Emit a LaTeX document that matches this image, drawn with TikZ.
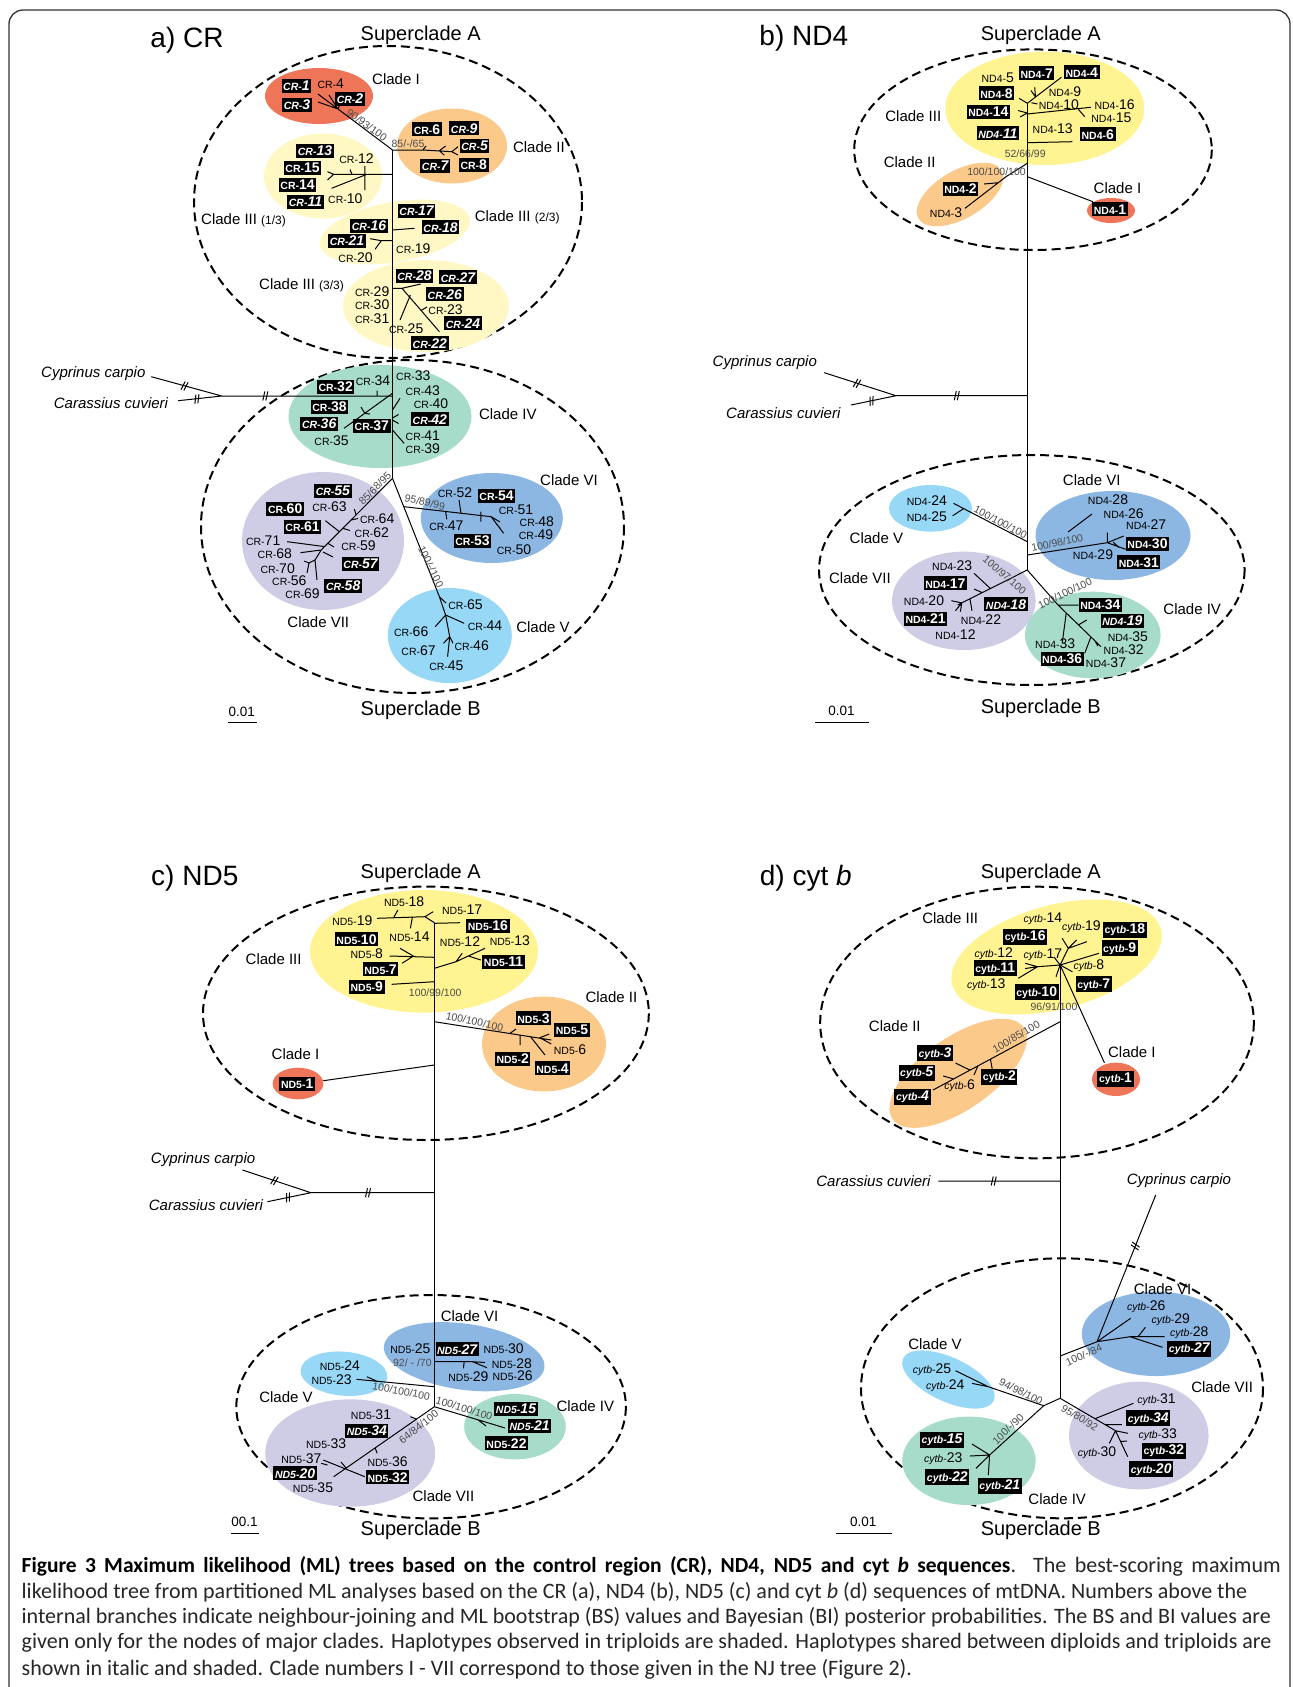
\documentclass[tikz,border=0pt]{standalone}
\usepackage{fontspec}
\setmainfont{Liberation Sans}
\newfontfamily\capfont{Carlito}

\definecolor{cI}{RGB}{239,117,88}
\definecolor{cII}{RGB}{251,201,138}
\definecolor{cIIIa}{RGB}{255,248,196}
\definecolor{cIII}{RGB}{255,244,145}
\definecolor{cIV}{RGB}{167,220,203}
\definecolor{cV}{RGB}{150,216,245}
\definecolor{cVI}{RGB}{141,183,227}
\definecolor{cVII}{RGB}{207,204,230}

\tikzset{
  br/.style={line width=1pt},
  superclade/.style={line width=2pt, dash pattern=on 9pt off 5pt},
  hap/.style={inner sep=0.6pt},
  hbox/.style={fill=black, text=white, inner xsep=1.6pt, inner ysep=2pt, font=\bfseries},
  hboxi/.style={hbox, font=\bfseries\itshape},
  clade/.style={font=\fontsize{15}{15}\selectfont, inner sep=0pt},
  sup/.style={font=\fontsize{20}{20}\selectfont},
  ptitle/.style={font=\fontsize{28}{28}\selectfont},
  bs/.style={font=\fontsize{10.5}{10.5}\selectfont, text=black!70, inner sep=0.5pt},
  og/.style={font=\fontsize{15}{15}\selectfont\itshape, inner sep=0pt},
  sbar/.style={font=\fontsize{13.5}{13.5}\selectfont},
  capline/.style={anchor=west, inner sep=0pt, font=\capfont\fontsize{22}{22}\selectfont, text=black!85}
}

% haplotype label: small prefix, larger number
\newcommand{\hp}[2]{{\fontsize{10.5}{11}\selectfont #1-}{\fontsize{14}{14}\selectfont #2}}
\newcommand{\cpart}[1]{{\fontsize{12}{12}\selectfont(#1)}}
\newcommand{\capbf}[1]{{\fontsize{21.5}{22}\selectfont\bfseries\color{black}#1}}
% coloured clade ellipse: colour, x, y, rx, ry, angle
\newcommand{\clade}[6]{\fill[#1, rotate around={#6:(#2,#3)}] (#2,#3) ellipse [x radius=#4, y radius=#5];}
% break mark on a long branch: x, y, angle of branch
\newcommand{\brk}[3]{\draw[br, shift={(#1,#2)}, rotate=#3] (-2.5pt,-4.5pt) -- (-0.5pt,4.5pt) (0.5pt,-4.5pt) -- (2.5pt,4.5pt);}

\begin{document}
\begin{tikzpicture}[x=1pt,y=-1pt]
\useasboundingbox (0,0) rectangle (1293,1687);
\fill[white] (0,0) rectangle (1293,1687);
\draw[line width=1.3pt, black!80, rounded corners=14pt] (9,10) rectangle (1290,1720);

%%%%%%%%%%%%%%%% a) CR
\draw[superclade] (388,202) ellipse [x radius=194, y radius=156];
\draw[superclade] (412.5,526.5) ellipse [x radius=211.5, y radius=166.5];
\clade{cI}{319}{96}{54}{28}{0}
\clade{cII}{452}{146}{55}{37.5}{0}
\clade{cIIIa}{323}{176}{59}{42.5}{0}
\clade{cIIIa}{395}{232}{76}{30}{10}
\clade{cIIIa}{426}{306}{83}{46}{0}
\clade{cIV}{380}{416.5}{91.5}{51.5}{0}
\clade{cV}{449.8}{635.5}{62}{47.5}{0}
\clade{cVI}{491.8}{518}{71}{45}{0}
\clade{cVII}{323}{541}{81}{69}{0}

\coordinate (a-top) at (392.5,150);
\coordinate (a-root) at (392.5,478.3);
\coordinate (a-n1) at (338,109);
\coordinate (a-n2) at (422.8,150);
\coordinate (a-n3) at (402,288.3);
\coordinate (a-n5) at (445.6,615);
\coordinate (a-n6) at (404.1,506.7);
\coordinate (a-n7) at (321.2,550);
\coordinate (a-og) at (221.8,396);
\coordinate (a-cyp-e) at (151.3,376.7);
\coordinate (a-car-e) at (178.2,400.7);

\draw[br] (a-top) -- (a-root);
\draw[br] (a-top) -- (a-n1) (a-n1) -- (318,94) (a-n1) -- (318,102) (a-n1) -- (329,95) (a-n1) -- (341,102);
\draw[br] (a-top) -- (a-n2) -- (451.8,151.7) (439.4,150.7) -- (445.6,146) (439.4,150.7) -- (444.4,155.3)
  (451.8,151.7) -- (458,146.7) (451.8,151.7) -- (458,155) (a-n2) -- (426,146);
\draw[br] (392.5,174.3) -- (333.7,174.3) -- (327.5,171.7) (333.7,174.3) -- (327.5,180) (364.8,166) -- (364.8,190)
  (366.8,174.3) -- (331.6,188.3) (352,174.3) -- (350,169.5);
\draw[br] (392.5,230) -- (414.5,228.3) (392.5,240.7) -- (381.3,240.7) -- (370.2,238.7) (381.3,240.7) -- (375,249.3);
\draw[br] (392.5,288.3) -- (a-n3) -- (420.7,284) (a-n3) -- (439.4,331.7) (410.4,295) -- (400,320) (421,310.5) -- (427,307);
\draw[br] (a-og) -- (392.5,396) (a-cyp-e) -- (a-og) (a-car-e) -- (a-og);
\brk{184.5}{386}{-15} \brk{196.9}{399}{6} \brk{265.3}{396}{0}
\draw[br] (377.2,396) -- (377.2,390.5) (392.5,393.3) -- (344,428.3) (364.8,413.3) -- (361,407) (364.8,413.3) -- (370,414)
  (392.5,410) -- (400,398.3) (392.5,418) -- (398.5,414.5) (392.5,420) -- (398.5,423.5) (392.5,430) -- (404.1,443.3);
\draw[br] (a-root) -- (a-n7) -- (315,560) -- (317,580) (356,515) -- (354.4,509) (351,520) -- (358,518.5)
  (342.8,528.3) -- (350,530.5) (339.4,531.7) -- (325.4,520.7) (327.9,543.3) -- (334,547) (324,546.5) -- (287.2,541.7)
  (a-n7) -- (300.5,552.7) (323,552) -- (333,557) (315,560) -- (309,563) -- (307,573) (309,563) -- (304,561);
\draw[br] (a-n6) -- (491.2,516.7) (461,513.3) -- (459,500) (445.6,511.5) -- (446.8,519.3) (480.8,511.7) -- (480.8,521.7)
  (491.2,516.7) -- (503.6,533.3) (491.2,516.7) -- (500,522) (496,523.5) -- (500,528);
\draw[br] (a-root) -- (439.4,596.7) -- (a-n5) (439.4,596.7) -- (446,603) (a-n5) -- (435.2,626.7) (a-n5) -- (464.2,623.3)
  (a-n5) -- (449.7,636.7) -- (447.6,656.7) (449.7,636.7) -- (443.5,643.3) (449.7,636.7) -- (453,643.3);

\foreach \n/\x/\y in {4/330.8/84, 12/356.5/158.3, 10/345.3/198.7, 19/413.3/248.3, 20/355.6/257.3, 29/372.2/291.7,
  30/372.2/305, 31/372.2/318.3, 23/445.6/310, 25/406.2/329, 34/373/380.7, 33/413.3/376, 43/422.8/390.7,
  40/431/403.3, 41/422.8/436, 35/331.6/440.7, 39/422.8/448.3, 52/455/492.3, 51/516/509.3, 48/536.8/521.7,
  47/446.4/525.7, 49/536/534.3, 50/514/549.3, 65/465.5/605, 66/411.2/631.7, 44/485/625.7, 67/418.6/651,
  46/471.7/646, 45/446.4/666, 63/329.5/506.7, 64/377.2/518.3, 62/371.8/532.3, 71/263.2/541, 59/358.5/546,
  68/274.8/554, 70/277.7/568.3, 56/289.3/581, 69/302.6/594}
  \node[hap] (cr-\n) at (\x,\y) {\hp{CR}{\n}};
\foreach \n/\x/\y in {6/427/129.3, 8/473.8/165, 15/302.6/167.7, 14/297.6/185, 32/335.7/386.7, 38/329.5/406.7,
  37/371.8/426, 54/496.6/496, 53/472.5/541, 60/285.2/509, 61/302.6/526.7}
  \node[hbox] (cr-\n) at (\x,\y) {\hp{CR}{\n}};
\foreach \n/\x/\y in {1/296.4/86, 3/297/105, 2/350/98.7, 9/464.2/128.3, 5/474.6/145.7, 7/435.2/165.7, 13/315/151,
  11/305.5/201.7, 17/416.6/211, 16/369/226, 18/440.6/227.3, 21/347/241, 28/414.5/276, 27/458/277.3,
  26/444.8/294.3, 24/463/323.3, 22/429.8/343.3, 42/429.8/419.3, 36/319.2/424, 55/332.9/490.7, 57/360.6/564,
  58/343.2/585.7}
  \node[hboxi] (cr-\n) at (\x,\y) {\hp{CR}{\n}};

\node[ptitle] (a-title) at (187,40) {a) CR};
\node[sup] (a-supA) at (420.7,35) {Superclade A};
\node[sup] (a-supB) at (420.7,710) {Superclade B};
\node[sbar] (a-scale) at (241.7,711.7) {0.01};
\draw[line width=1.2pt] (228,722.7) -- (257,722.7);
\node[clade] (a-cI) at (396,79) {Clade I};
\node[clade] (a-cII) at (538.9,146.7) {Clade II};
\node[clade, anchor=west] (a-cIIIa) at (201,220.7) {Clade III \cpart{1/3}};
\node[clade, anchor=west] (a-cIIIb) at (474.6,217.3) {Clade III \cpart{2/3}};
\node[clade, anchor=west] (a-cIIIc) at (259,285.7) {Clade III \cpart{3/3}};
\node[clade] (a-cIV) at (507.8,414.3) {Clade IV};
\node[clade] (a-cV) at (543,627.3) {Clade V};
\node[clade] (a-cVI) at (569,480) {Clade VI};
\node[clade] (a-cVII) at (318.3,622.3) {Clade VII};
\node[og] (a-cyp) at (93.3,373.3) {Cyprinus carpio};
\node[og] (a-car) at (111,403.3) {Carassius cuvieri};
\node[bs, rotate=-36] (a-bs1) at (366.8,125) {90/93/100};
\node[bs] (a-bs2) at (408,144) {85/-/65};
\node[bs, rotate=45] (a-bs3) at (375,488.3) {85/68/95};
\node[bs, rotate=-12] (a-bs4) at (424.9,502.3) {95/89/99};
\node[bs, rotate=-64] (a-bs5) at (431,566.7) {100/-/100};

%%%%%%%%%%%%%%%% b) ND4
\draw[superclade] (1033,149.7) ellipse [x radius=178.8, y radius=100.3];
\draw[superclade] (1031.8,570) ellipse [x radius=212.8, y radius=115];
\clade{cIII}{1044.8}{108.3}{99.5}{56.7}{0}
\clade{cII}{960}{194.5}{48}{24}{30}
\clade{cI}{1111}{210.5}{24}{12.5}{0}
\clade{cV}{930.5}{508.3}{41.5}{23.3}{0}
\clade{cVI}{1113}{535.5}{77.5}{44.5}{0}
\clade{cVII}{963.8}{600.8}{71.8}{49.2}{0}
\clade{cIV}{1092.8}{635}{67.8}{43.3}{0}

\coordinate (b-top) at (1027.3,103.3);
\coordinate (b-root) at (1027.3,570);
\coordinate (b-n4) at (1058,605);
\coordinate (b-n6) at (1107.3,542.7);
\coordinate (b-og) at (896,395.7);
\coordinate (b-cyp-e) at (824.3,372.7);
\coordinate (b-car-e) at (851,405);

\draw[br] (b-top) -- (b-root);
\draw[br] (b-top) -- (1061.3,77.3) (1035.5,97) -- (1034.7,87.3) (1035.5,97) -- (1031,90.5) (1019,98.3) -- (b-top)
  (1031.4,102.7) -- (1037.5,104) (1027.3,113) -- (1018,110.5) (1027.3,113) -- (1020,117)
  (1027.3,114) -- (1090.9,107.3) (1078.5,109.4) -- (1084.7,116.7) (1027.3,142.7) -- (1072.4,141.7);
\draw[br] (1027.3,163.3) -- (1006,176.7) -- (965,208.3) (998.2,182.7) -- (984.2,184);
\draw[br] (1027.3,176.7) -- (1092.9,201.7);
\draw[br] (b-og) -- (1027.3,395.7) (b-cyp-e) -- (b-og) (b-car-e) -- (b-og);
\brk{857}{383.3}{-18} \brk{871.5}{401}{12} \brk{956.8}{395.7}{0}
\draw[br] (1027.3,541.7) -- (953.5,503.3) (963.7,508.6) -- (952.7,515.7);
\draw[br] (1027.3,555) -- (b-n6) (1068,532) -- (1092,514) (b-n6) -- (1107.3,532.7) (b-n6) -- (1123.7,536)
  (b-n6) -- (1125.7,549.3) (1113,542) -- (1119,547.5);
\draw[br] (b-root) -- (957.6,605) (990.4,588.5) -- (974,573.3) (982.2,592.6) -- (974,589) (969.9,598.8) -- (972,610.7)
  (961.7,602.9) -- (951.4,600.7) (961.7,602.9) -- (955.5,610.7) (961.7,602.9) -- (960.4,611.7);
\draw[br] (b-root) -- (b-n4) -- (1078.5,605) (b-n4) -- (1101,646.7) (1066.2,613) -- (1062.2,643.3)
  (1090.9,636.9) -- (1084.7,653.3) (1078.5,624.9) -- (1086.8,620) (1095,640.9) -- (1097.8,646);

\foreach \n/\x/\y in {5/997.8/77.3, 9/1065/91.7, 10/1058.9/104.3, 16/1114.6/105, 15/1111.4/117.3, 13/1052.7/128.3,
  3/946.1/212.7, 24/926.8/501, 25/926.8/516.7, 28/1108/500, 26/1123.7/513.3, 27/1146.2/524.3, 29/1093/555,
  23/952.2/565.7, 20/924/600.7, 22/981/620, 12/955.5/635, 35/1127.8/636.7, 33/1055.2/644, 32/1123.7/649.3,
  37/1106/662.3}
  \node[hap] (nd4-\n) at (\x,\y) {\hp{ND4}{\n}};
\foreach \n/\x/\y in {7/1036.7/73.3, 4/1081.8/72.3, 8/996.5/93.3, 14/988.3/111.7, 6/1097.8/134.3, 2/960.4/189,
  1/1110/209.3, 30/1147.5/544, 31/1138.8/562.3, 17/945.3/583.3, 21/925.6/619, 34/1100.3/605, 36/1062.2/659}
  \node[hbox] (nd4-\n) at (\x,\y) {\hp{ND4}{\n}};
\foreach \n/\x/\y in {11/997.8/133.3, 18/1006/604.3, 19/1122.4/621}
  \node[hboxi] (nd4-\n) at (\x,\y) {\hp{ND4}{\n}};

\node[ptitle] (b-title) at (803.8,38.3) {b) ND4};
\node[sup] (b-supA) at (1040.8,35) {Superclade A};
\node[sup] (b-supB) at (1040.8,708.3) {Superclade B};
\node[sbar] (b-scale) at (841.5,710.7) {0.01};
\draw[line width=1.2pt] (815.3,722.3) -- (868.6,722.3);
\node[clade] (b-cIII) at (913.3,116) {Clade III};
\node[clade] (b-cII) at (909.6,162.3) {Clade II};
\node[clade] (b-cI) at (1117.5,187.7) {Clade I};
\node[clade] (b-cV) at (876.4,538.3) {Clade V};
\node[clade] (b-cVI) at (1091.7,480) {Clade VI};
\node[clade] (b-cVII) at (860,577.7) {Clade VII};
\node[clade] (b-cIV) at (1192.2,609.3) {Clade IV};
\node[og] (b-cyp) at (764.8,363) {Cyprinus carpio};
\node[og] (b-car) at (783.3,413.3) {Carassius cuvieri};
\node[bs] (b-bs1) at (1025.2,153.3) {52/66/99};
\node[bs] (b-bs2) at (996.5,171.7) {100/100/100};
\node[bs, rotate=-28] (b-bs3) at (1000.6,522.3) {100/100/100};
\node[bs, rotate=12] (b-bs4) at (1057.2,542.7) {100/98/100};
\node[bs, rotate=-40] (b-bs5) at (1004.7,575) {100/97/100};
\node[bs, rotate=26] (b-bs6) at (1065,593.3) {100/100/100};

%%%%%%%%%%%%%%%% c) ND5
\draw[superclade] (425.9,1013.3) ellipse [x radius=222.9, y radius=126.7];
\draw[superclade] (431.1,1406.7) ellipse [x radius=194.8, y radius=111.7];
\clade{cIII}{424}{951.3}{114}{61.3}{0}
\clade{cII}{544}{1044}{62}{47.5}{0}
\clade{cI}{298}{1083.5}{25.3}{15.8}{0}
\clade{cVI}{464.2}{1356.7}{81}{33}{-8}
\clade{cV}{344}{1373.7}{43.5}{22}{-5}
\clade{cIV}{515}{1426.7}{50.8}{32.7}{0}
\clade{cVII}{350.2}{1453}{85}{53.7}{0}

\coordinate (c-top) at (434.4,922.7);
\coordinate (c-root) at (434.4,1406.7);
\coordinate (c-og) at (310.9,1192.7);
\coordinate (c-cyp-e) at (242.5,1170);
\coordinate (c-car-e) at (267.4,1201.7);

\draw[br] (c-top) -- (c-root);
\draw[br] (c-top) -- (424.9,916.7) -- (377.2,918.3) (393.8,917.3) -- (397.9,910) (412.4,917) -- (410.4,928.3)
  (424.9,916.7) -- (433.2,911.7) (434.4,923.3) -- (460,922.7) (434.4,957.3) -- (414.5,956.7) -- (400,948.3)
  (414.5,956.7) -- (389.6,956) (412,957) -- (402,963.3) (434.4,968.3) -- (456,961.7) -- (485,948.3)
  (456,961.7) -- (462.2,953.3) (468.4,956) -- (480.8,960) (434.4,981.7) -- (391.7,984.3);
\draw[br] (434.4,1021.7) -- (551.3,1040) (509.8,1033.5) -- (516,1029) (520.2,1035.1) -- (520.2,1045)
  (530.6,1036.8) -- (545,1055) (538.9,1038.1) -- (549.2,1034) (541,1038.4) -- (551.3,1044);
\draw[br] (434.4,1065) -- (323.3,1080.7);
\draw[br] (c-og) -- (434.4,1192.7) (c-cyp-e) -- (c-og) (c-car-e) -- (c-og);
\brk{274.4}{1180.6}{-18} \brk{288}{1197.4}{12} \brk{368}{1192.7}{0}
\draw[br] (434.4,1361.7) -- (472.5,1361.7) -- (487,1367.7) (472.5,1361.7) -- (485,1362.5) (464.2,1361.7) -- (463.4,1368.3);
\draw[br] (434.4,1386.7) -- (356.5,1379.3) (366.8,1376.7) -- (377.2,1381.3);
\draw[br] (c-root) -- (495.3,1425) -- (505,1428) (478,1419.8) -- (486,1426);
\draw[br] (c-root) -- (333.7,1476.7) (416.6,1419.1) -- (410.4,1416.7) (375.1,1447.9) -- (377.2,1453.3)
  (346,1468) -- (341,1462) (323.3,1460) -- (364.8,1476.7) (321.2,1463.3) -- (327.5,1465);

\foreach \n/\x/\y in {18/404.1/901.7, 17/462.2/910, 19/352.3/921, 14/409.5/936.7, 12/460/941.7, 13/509.8/941,
  8/366.8/954, 6/570/1049.3, 25/410.4/1348.3, 30/503.6/1348.3, 28/511.9/1363.3, 29/468.4/1376.7,
  26/512.7/1375.7, 24/339.9/1365.7, 23/331.6/1380, 31/371/1415, 33/326.2/1443.3, 37/301.3/1458.3,
  36/387.6/1461.7, 35/313/1487.3}
  \node[hap] (nd5-\n) at (\x,\y) {\hp{ND5}{\n}};
\foreach \n/\x/\y in {16/487.9/925.7, 10/356.5/939.3, 7/380.5/969.3, 11/503.6/961.7, 9/366.8/986.7, 3/533.5/1018.3,
  5/572/1030, 2/512.7/1059, 4/552.5/1068.3, 1/297.2/1084, 22/506.5/1443.3, 32/387.6/1477.3}
  \node[hbox] (nd5-\n) at (\x,\y) {\hp{ND5}{\n}};
\foreach \n/\x/\y in {27/457.2/1349.3, 15/516/1409, 21/529.7/1425.7, 34/366.8/1431, 20/295.1/1473.3}
  \node[hboxi] (nd5-\n) at (\x,\y) {\hp{ND5}{\n}};

\node[ptitle] (c-title) at (194.8,878.3) {c) ND5};
\node[sup] (c-supA) at (420.7,873.3) {Superclade A};
\node[sup] (c-supB) at (420.7,1530) {Superclade B};
\node[sbar] (c-scale) at (244.6,1521.7) {00.1};
\draw[line width=1.2pt] (230.9,1533.3) -- (259,1533.3);
\node[clade] (c-cIII) at (273.6,959) {Clade III};
\node[clade] (c-cII) at (611.4,996.7) {Clade II};
\node[clade] (c-cI) at (295.5,1054.3) {Clade I};
\node[clade] (c-cVI) at (469.6,1315.7) {Clade VI};
\node[clade] (c-cV) at (286,1396.7) {Clade V};
\node[clade] (c-cIV) at (585.3,1405.7) {Clade IV};
\node[clade] (c-cVII) at (443.5,1496) {Clade VII};
\node[og] (c-cyp) at (203.1,1159.3) {Cyprinus carpio};
\node[og] (c-car) at (206,1205) {Carassius cuvieri};
\node[bs] (c-bs1) at (435.2,992.7) {100/99/100};
\node[bs, rotate=-12] (c-bs2) at (474.6,1021.7) {100/100/100};
\node[bs] (c-bs3) at (412.4,1362.3) {92/ - /70};
\node[bs, rotate=-11] (c-bs4) at (401.2,1391) {100/100/100};
\node[bs, rotate=-17] (c-bs5) at (464.2,1408.3) {100/100/100};
\node[bs, rotate=38] (c-bs6) at (418.6,1426.7) {64/84/100};

%%%%%%%%%%%%%%%% d) cyt b
\draw[superclade] (1037,1022.5) ellipse [x radius=216.8, y radius=135.8];
\draw[superclade] (1062,1388.3) ellipse [x radius=201, y radius=130];
\clade{cIII}{1056.6}{957}{108}{52}{15}
\clade{cII}{958.2}{1073.3}{80}{36}{35}
\clade{cI}{1116}{1079.3}{24}{16.7}{0}
\clade{cVI}{1156}{1333.8}{74.2}{42.2}{0}
\clade{cV}{948.4}{1379.5}{50}{22}{-25}
\clade{cIV}{968.9}{1460.8}{66.7}{44.2}{0}
\clade{cVII}{1138.8}{1435.5}{69.8}{53.8}{0}

\coordinate (d-n3) at (1060.1,965);
\coordinate (d-root) at (1060.1,1398.3);
\coordinate (d-n5) at (1043.7,1405.7);
\coordinate (d-n6) at (1097,1341.7);
\coordinate (d-car-e) at (938.3,1181);
\coordinate (d-cyp-e) at (1155.7,1195);

\draw[br] (d-n3) -- (d-root);
\draw[br] (d-n3) -- (1037.5,966.7) -- (1025.2,963.3) (1037.5,966.7) -- (1025.2,968.5) (1037.5,966.7) -- (1018.3,978.3)
  (d-n3) -- (1068.3,948.3) -- (1062.2,938.3) (1068.3,948.3) -- (1076.6,940) (1068.3,948.3) -- (1086.8,941.7)
  (d-n3) -- (1099,953.3) (d-n3) -- (1072.4,971.7) (d-n3) -- (1056,976.7) (d-n3) -- (1054,957);
\draw[br] (1060.1,1021.7) -- (933,1090) (990.4,1059.1) -- (992.4,1070) (978,1065.8) -- (974,1075)
  (969.9,1070.1) -- (955.5,1063) (953.5,1078.9) -- (943.2,1076);
\draw[br] (d-n3) -- (1104.4,1062.7);
\draw[br] (d-car-e) -- (1060.1,1181) (d-cyp-e) -- (d-n6);
\brk{993.7}{1181}{0} \brk{1135.3}{1246}{68}
\draw[br] (1060.1,1356) -- (d-n6) -- (1130.6,1318.3) (d-n6) -- (1130,1336.7) -- (1164.7,1336.7)
  (1130,1336.7) -- (1162.6,1347.3) (1138,1336.7) -- (1145.4,1327.3);
\draw[br] (d-root) -- (d-n5) -- (988.3,1386.7) (955.5,1370.7) -- (988.3,1386.7) (971.9,1383.3) -- (988.3,1386.7)
  (d-n5) -- (989.6,1455) -- (972,1444) (989.6,1455) -- (969.9,1456) (989.6,1455) -- (976,1468.3) (989.6,1455) -- (988.3,1475);
\draw[br] (d-root) -- (1115.5,1430.7) -- (1109.3,1443.3) (1115.5,1430.7) -- (1127.7,1456.7) (1115.5,1430.7) -- (1127.8,1433.3)
  (1095,1418.7) -- (1133.4,1403.3) (1105.2,1424.7) -- (1121.9,1424.7) (1120.5,1441.5) -- (1127,1441);

\foreach \n/\x/\y in {14/1042.9/919, 19/1081.4/926.7, 12/993.7/953.3, 17/1042.9/954.3, 8/1088.8/966, 13/986.3/985,
  6/959.6/1086, 26/1146.2/1306.7, 29/1170.8/1319.3, 28/1189.3/1332.7, 25/932.1/1370, 24/945.3/1385.7,
  23/943.2/1458.3, 31/1156.5/1400, 33/1157.7/1435, 30/1097/1452.7}
  \node[hap] (cytb-\n) at (\x,\y) {\hp{\textit{cytb}}{\n}};
\foreach \n/\x/\y in {18/1124.9/930, 16/1025.2/936.7, 9/1119.6/948.3, 11/995.3/968.3, 7/1093.7/984.3,
  10/1036.7/992.3, 2/999.4/1076.7, 1/1115.5/1079, 32/1163.9/1451}
  \node[hbox] (cytb-\n) at (\x,\y) {\hp{cyt\textit{b}}{\n}};
\foreach \n/\x/\y in {3/935/1053.3, 5/916.6/1072.7, 4/912.5/1096.7, 27/1189.3/1349, 15/942/1440, 22/947.3/1477.3,
  21/999.8/1485.7, 34/1148.3/1418.3, 20/1151.2/1469.3}
  \node[hboxi] (cytb-\n) at (\x,\y) {\hp{cytb}{\n}};

\node[ptitle] (d-title) at (805.8,878.3) {d) cyt \textit{b}};
\node[sup] (d-supA) at (1040.8,873.3) {Superclade A};
\node[sup] (d-supB) at (1040.8,1530) {Superclade B};
\node[sbar] (d-scale) at (863.3,1521.7) {0.01};
\draw[line width=1.2pt] (835.8,1533.3) -- (892,1533.3);
\node[clade] (d-cIII) at (950.2,918.3) {Clade III};
\node[clade] (d-cII) at (894.8,1025.7) {Clade II};
\node[clade] (d-cI) at (1131.9,1051.7) {Clade I};
\node[clade] (d-cVI) at (1162.6,1289) {Clade VI};
\node[clade] (d-cV) at (935,1344.3) {Clade V};
\node[clade] (d-cVII) at (1222.1,1386.7) {Clade VII};
\node[clade] (d-cIV) at (1057.2,1499.3) {Clade IV};
\node[og] (d-car) at (873.5,1180.7) {Carassius cuvieri};
\node[og] (d-cyp) at (1179,1180.7) {Cyprinus carpio};
\node[bs] (d-bs1) at (1054,1006.7) {96/91/100};
\node[bs, rotate=30] (d-bs2) at (1016.2,1036.7) {100/85/100};
\node[bs, rotate=24] (d-bs3) at (1083.9,1355) {100/-/84};
\node[bs, rotate=-26] (d-bs4) at (1021.1,1391.7) {94/98/100};
\node[bs, rotate=44] (d-bs5) at (1008,1429) {100/-/90};
\node[bs, rotate=-32] (d-bs6) at (1079.8,1417.7) {95/80/92};

%%%%%%%%%%%%%%%% caption
\node[capline] (cap1) at (21.5,1566) {\makebox[1259pt][s]{\capbf{Figure 3 Maximum likelihood (ML) trees based on the control region (CR), ND4, ND5 and cyt \textit{b} sequences}. The best-scoring maximum}};
\node[capline] (cap2) at (21.5,1592) {likelihood tree from partitioned ML analyses based on the CR (a), ND4 (b), ND5 (c) and cyt \textit{b} (d) sequences of mtDNA. Numbers above the};
\node[capline] (cap3) at (21.5,1617.5) {internal branches indicate neighbour-joining and ML bootstrap (BS) values and Bayesian (BI) posterior probabilities. The BS and BI values are};
\node[capline] (cap4) at (21.5,1643) {given only for the nodes of major clades. Haplotypes observed in triploids are shaded. Haplotypes shared between diploids and triploids are};
\node[capline] (cap5) at (21.5,1669) {shown in italic and shaded. Clade numbers I - VII correspond to those given in the NJ tree (Figure 2).};
\end{tikzpicture}
\end{document}
